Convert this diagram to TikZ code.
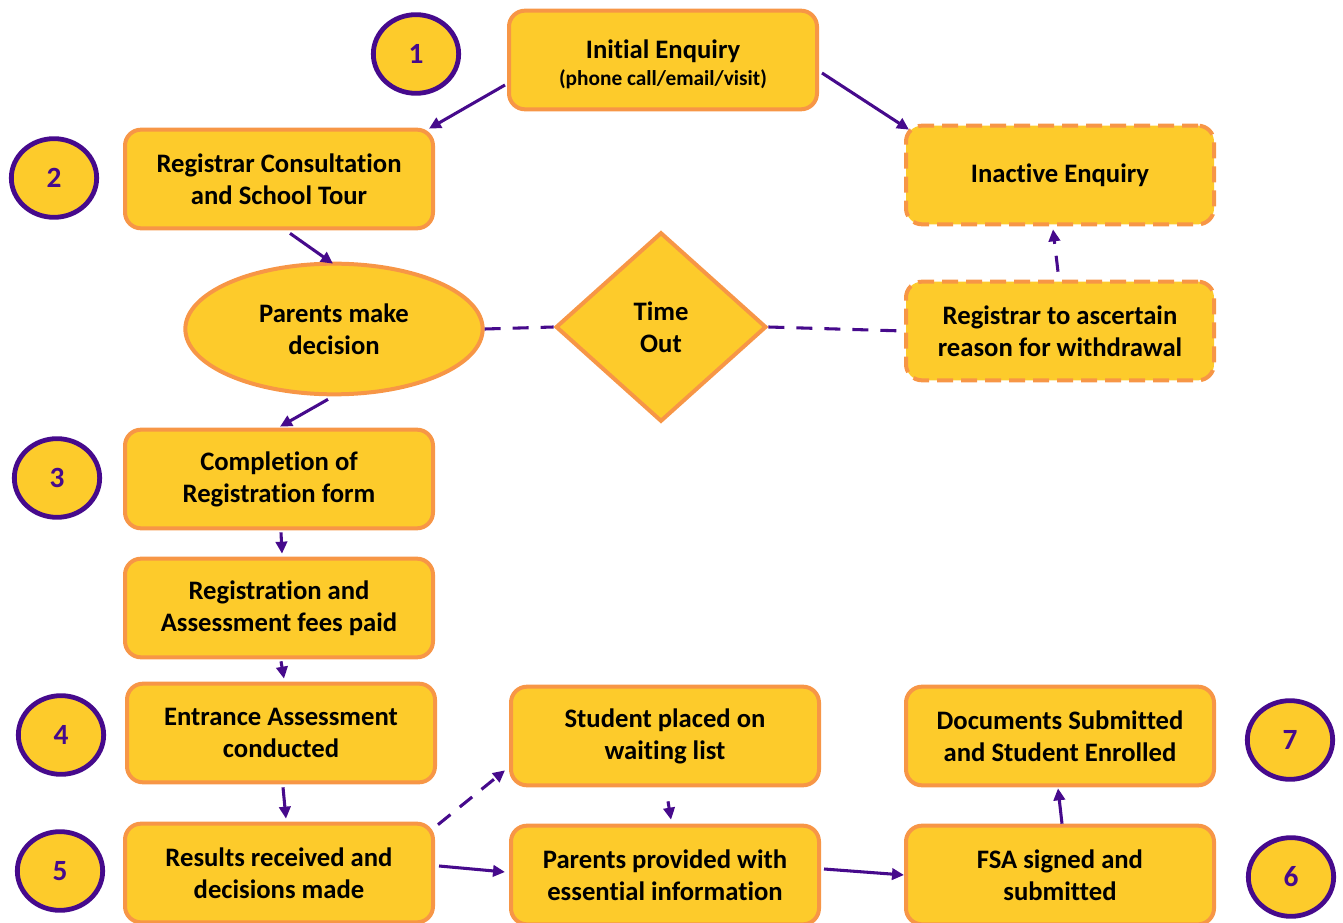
\documentclass[tikz,border=0pt]{standalone}
\usepackage{fontspec}
\setmainfont{Carlito}[Ligatures=NoCommon]
\usetikzlibrary{arrows.meta,shapes.geometric}
\definecolor{boxfill}{RGB}{253,203,43}
\definecolor{boxedge}{RGB}{247,150,70}
\definecolor{inkpurple}{RGB}{70,10,140}
\tikzset{
  stepbox/.style={draw=boxedge, fill=boxfill, line width=3pt, rounded corners=12pt,
    minimum width=231pt, minimum height=74pt, align=center,
    font=\fontsize{20}{24}\selectfont\bfseries},
  stepboxdash/.style={stepbox, dash pattern=on 12pt off 6pt},
  numring/.style={ellipse, draw=inkpurple, fill=boxfill, line width=3.6pt,
    minimum width=64pt, minimum height=59pt, text=inkpurple,
    font=\fontsize{22}{24}\selectfont\bfseries},
  flowarrow/.style={draw=inkpurple, line width=2.3pt, -{Triangle[length=9pt,width=8.5pt]}},
  flowdash/.style={draw=inkpurple, line width=2.3pt, dash pattern=on 12pt off 9pt}
}
\begin{document}
\begin{tikzpicture}[x=0.75pt,y=-0.75pt]
			%%%%% FRAME %%%%%
			\useasboundingbox (0,0) rectangle (1343,923);
			\clip (0,0) rectangle (1343,923);
			
			%%%%% STEPS %%%%%
			\node[stepbox] (init) at (663,60) {\rule{0pt}{21pt}Initial Enquiry\\[-4pt]{\fontsize{16}{18}\selectfont (phone call/email/visit)}};
			\node[stepbox] (consult) at (279,179) {Registrar Consultation\\and School Tour};
			\node[stepboxdash] (inactive) at (1060,175) {Inactive Enquiry};
			\node[ellipse, draw=boxedge, fill=boxfill, line width=3pt, minimum width=223pt, minimum height=98pt,
			  align=center, font=\fontsize{20}{24}\selectfont\bfseries] (decide) at (334,329) {Parents make\\decision};
			\node[diamond, draw=boxedge, fill=boxfill, line width=3pt, minimum width=158pt, minimum height=142pt,
			  align=center, font=\fontsize{20}{24}\selectfont\bfseries] (timeout) at (661,327) {Time\\Out};
			\node[stepboxdash] (reason) at (1060,331) {Registrar to ascertain\\reason for withdrawal};
			\node[stepbox] (form) at (279,479) {Completion of\\Registration form};
			\node[stepbox] (fees) at (279,608) {Registration and\\Assessment fees paid};
			\node[stepbox] (assess) at (281,733) {Entrance Assessment\\conducted};
			\node[stepbox] (results) at (279,873) {Results received and\\decisions made};
			\node[stepbox] (waitlist) at (665,736) {Student placed on\\waiting list};
			\node[stepbox] (info) at (665,875) {Parents provided with\\essential information};
			\node[stepbox] (enrol) at (1060,736) {Documents Submitted\\and Student Enrolled};
			\node[stepbox] (fsa) at (1060,875) {FSA signed and\\submitted};
			
			%%%%% NUMBERS %%%%%
			\node[numring] (n1) at (416,54) {1};
			\node[numring] (n2) at (54,178) {2};
			\node[numring] (n3) at (57,478) {3};
			\node[numring] (n4) at (61,735) {4};
			\node[numring] (n5) at (60,871) {5};
			\node[numring] (n6) at (1291,877) {6};
			\node[numring] (n7) at (1290,740) {7};
			
			%%%%% LINKS %%%%%
			\draw[flowarrow] ([shift={(-2,25)}]init.west) -- ([shift={(-6,1)}]consult.north east);
			\draw[flowarrow] ([shift={(3,13)}]init.east) -- ([shift={(5,6)}]inactive.north west);
			\draw[flowarrow] ([shift={(11,3)}]consult.south) -- ([shift={(-1,2)}]decide.north);
			\draw[flowarrow] ([shift={(-6,3)}]decide.south) -- ([shift={(1,-1)}]form.north);
			\draw[flowarrow] ([shift={(2,2)}]form.south) -- ([shift={(3,-3)}]fees.north);
			\draw[flowarrow] ([shift={(2,2)}]fees.south) -- ([shift={(3,-3)}]assess.north);
			\draw[flowarrow] ([shift={(2,3)}]assess.south) -- ([shift={(7,-3)}]results.north);
			\draw[flowarrow] ([shift={(4,-7)}]results.east) -- ([shift={(-4,-3)}]info.west);
			\draw[flowarrow] ([shift={(3,14)}]waitlist.south) -- ([shift={(6,-4)}]info.north);
			\draw[flowarrow] ([shift={(3,-6)}]info.east) -- ([shift={(0,0)}]fsa.west);
			\draw[flowarrow] ([shift={(2,0)}]fsa.north) -- ([shift={(-2,1)}]enrol.south);
			\draw[flowdash, -{Triangle[length=9pt,width=8.5pt]}] ([shift={(3,3)}]results.north east) -- ([shift={(-4,-17)}]waitlist.south west);
			\draw[flowdash] (decide.east) -- (timeout.west);
			\draw[flowdash] (timeout.east) -- (reason.west);
			\draw[flowdash, -{Triangle[length=9pt,width=8.5pt]}] ([shift={(-2,-8)}]reason.north) -- ([shift={(-7,3)}]inactive.south);
\end{tikzpicture}
\end{document}
